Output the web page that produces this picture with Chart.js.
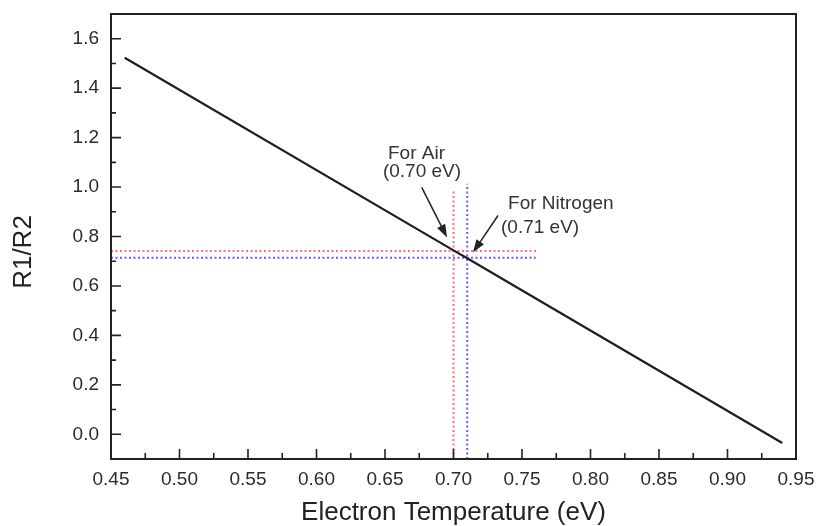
<!DOCTYPE html>
<html>
<head>
<meta charset="utf-8">
<script src="https://cdn.jsdelivr.net/npm/chart.js@4.4.1/dist/chart.umd.min.js"></script>
<style>
  html, body { margin: 0; padding: 0; background: #fff; }
</style>
</head>
<body>
<canvas id="myChart" width="817" height="526"></canvas>
<script>
// values
const temps = [0.46, 0.70, 0.71, 0.94];
const ratios = [1.523, 0.744, 0.712, -0.035];
const airTemp = 0.70;
const airRatio = 0.741;
const nitroTemp = 0.71;
const nitroRatio = 0.714;
const xTicks = [0.45, 0.50, 0.55, 0.60, 0.65, 0.70, 0.75, 0.80, 0.85, 0.90, 0.95];
const yTicks = [0.0, 0.2, 0.4, 0.6, 0.8, 1.0, 1.2, 1.4, 1.6];

// annotation labels and arrows, in data units
const notes = [
  { text: 'For Air', x: 0.6522, y: 1.115 },
  { text: '(0.70 eV)', x: 0.6485, y: 1.042 },
  { text: 'For Nitrogen', x: 0.7398, y: 0.913 },
  { text: '(0.71 eV)', x: 0.7347, y: 0.816 }
];
const arrows = [
  { from: [0.6768, 0.999], to: [0.6953, 0.796] },
  { from: [0.7325, 0.885], to: [0.7142, 0.735] }
];
const yTitle = 'R1/R2';

function pts(xs, ys) {
  return xs.map((v, i) => ({ x: v, y: ys[i] }));
}

// keep the plot box where the picture has it
function noPad(s) {
  s.paddingTop = 0; s.paddingBottom = 0;
  s.paddingLeft = 0; s.paddingRight = 0;
}

// box around the plot, inward ticks, arrows and notes
const frame = {
  id: 'frame',
  afterDatasetsDraw(chart) {
    const { ctx, chartArea: a, scales: { x, y } } = chart;
    ctx.save();
    ctx.strokeStyle = '#222';
    ctx.lineWidth = 2;
    ctx.strokeRect(a.left, a.top, a.right - a.left, a.bottom - a.top);

    ctx.lineWidth = 1.6;
    ctx.beginPath();
    xTicks.forEach((v, i) => {
      const px = x.getPixelForValue(v);
      ctx.moveTo(px, a.bottom); ctx.lineTo(px, a.bottom - 10);
      if (i < xTicks.length - 1) {
        const mx = x.getPixelForValue((v + xTicks[i + 1]) / 2);
        ctx.moveTo(mx, a.bottom); ctx.lineTo(mx, a.bottom - 6);
      }
    });
    yTicks.forEach((v, i) => {
      const py = y.getPixelForValue(v);
      ctx.moveTo(a.left, py); ctx.lineTo(a.left + 10, py);
      if (i < yTicks.length - 1) {
        const my = y.getPixelForValue((v + yTicks[i + 1]) / 2);
        ctx.moveTo(a.left, my); ctx.lineTo(a.left + 5, my);
      }
    });
    ctx.stroke();

    ctx.fillStyle = '#222';
    ctx.lineWidth = 1.5;
    arrows.forEach(ar => {
      const x0 = x.getPixelForValue(ar.from[0]), y0 = y.getPixelForValue(ar.from[1]);
      const x1 = x.getPixelForValue(ar.to[0]), y1 = y.getPixelForValue(ar.to[1]);
      const ang = Math.atan2(y1 - y0, x1 - x0);
      const len = 13, hw = 4.5;
      const bx = x1 - len * Math.cos(ang), by = y1 - len * Math.sin(ang);
      ctx.beginPath();
      ctx.moveTo(x0, y0); ctx.lineTo(bx, by);
      ctx.stroke();
      ctx.beginPath();
      ctx.moveTo(x1, y1);
      ctx.lineTo(bx + hw * Math.sin(ang), by - hw * Math.cos(ang));
      ctx.lineTo(bx - hw * Math.sin(ang), by + hw * Math.cos(ang));
      ctx.closePath();
      ctx.fill();
    });

    ctx.fillStyle = '#333';
    ctx.font = '19px Arial, "Liberation Sans"';
    ctx.textAlign = 'left';
    ctx.textBaseline = 'alphabetic';
    notes.forEach(n => {
      ctx.fillText(n.text, x.getPixelForValue(n.x), y.getPixelForValue(n.y));
    });

    // y title sits a bit below the middle of the axis in the picture
    ctx.fillStyle = '#222';
    ctx.font = '26px Arial, "Liberation Sans"';
    ctx.textAlign = 'center';
    ctx.textBaseline = 'middle';
    ctx.translate(24, 252);
    ctx.rotate(-Math.PI / 2);
    ctx.fillText(yTitle, 0, 0);
    ctx.restore();
  }
};

function initChart(target) {
  const tickFont = { family: 'Arial, "Liberation Sans"', size: 19 };
  const titleFont = { family: 'Arial, "Liberation Sans"', size: 26, lineHeight: 1 };
  const dotted = (color) => ({
    borderColor: color, borderWidth: 2, borderDash: [2, 2.5],
    pointRadius: 0, showLine: true, fill: false
  });

  return new Chart(target, {
    type: 'scatter',
    data: {
      datasets: [
        { data: pts(temps, ratios), borderColor: '#1e1e1e', borderWidth: 2.2,
          pointRadius: 0, showLine: true, fill: false },
        { data: [{ x: airTemp, y: -0.1 }, { x: airTemp, y: 0.986 }], ...dotted('#ff7070') },
        { data: [{ x: 0.45, y: airRatio }, { x: 0.762, y: airRatio }], ...dotted('#ff7070') },
        { data: [{ x: nitroTemp, y: -0.1 }, { x: nitroTemp, y: 1.013 }], ...dotted('#6060ff') },
        { data: [{ x: 0.45, y: nitroRatio }, { x: 0.76, y: nitroRatio }], ...dotted('#6060ff') }
      ]
    },
    options: {
      responsive: false,
      animation: false,
      devicePixelRatio: 1,
      layout: { padding: { top: 14, right: 21, left: 0, bottom: 0 } },
      plugins: { legend: { display: false }, tooltip: { enabled: false } },
      scales: {
        x: {
          type: 'linear', min: 0.45, max: 0.95,
          afterBuildTicks: s => { s.ticks = xTicks.map(v => ({ value: v })); },
          afterFit: s => { s.height = 67; noPad(s); },
          grid: { display: false, drawTicks: false },
          border: { display: false },
          ticks: { callback: v => v.toFixed(2), font: tickFont, color: '#2b2b2b',
                   padding: 9, maxRotation: 0, autoSkip: false },
          title: { display: true, text: 'Electron Temperature (eV)', font: titleFont,
                   color: '#222', padding: { top: 0, bottom: 0 } }
        },
        y: {
          type: 'linear', min: -0.1, max: 1.7,
          afterBuildTicks: s => { s.ticks = yTicks.map(v => ({ value: v })); },
          afterFit: s => { s.width = 111; noPad(s); },
          grid: { display: false, drawTicks: false },
          border: { display: false },
          ticks: { callback: v => v.toFixed(1), font: tickFont, color: '#2b2b2b',
                   padding: 12, autoSkip: false },
          title: { display: false }
        }
      }
    },
    plugins: [frame]
  });
}

document.addEventListener('DOMContentLoaded', () => initChart(document.querySelector('#myChart')));
</script>
</body>
</html>
